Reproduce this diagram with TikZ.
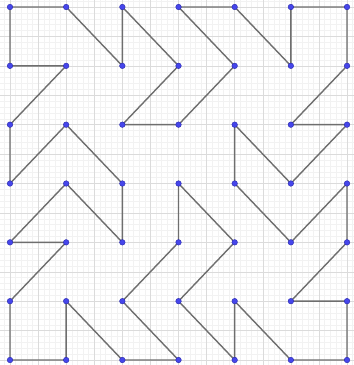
\documentclass[tikz,border=0pt]{standalone}
\usetikzlibrary{backgrounds}
\definecolor{ptblue}{RGB}{70,70,235}
\definecolor{ptedge}{RGB}{40,40,170}
\definecolor{segcol}{RGB}{110,110,110}
\begin{document}
\begin{tikzpicture}[x=56.17pt,y=-58.83pt,
  dot/.style={circle,fill=ptblue,draw=ptedge,line width=0.4pt,inner sep=0pt,minimum size=5.6pt},
  seg/.style={draw=segcol,line width=1.4pt,line join=round},
  minorgrid/.style={draw=gray!10,line width=0.4pt},
  majorgrid/.style={draw=gray!28,line width=0.5pt}]
\useasboundingbox (-0.178,-0.119) rectangle (6.124,6.085);
\foreach \i in {0,...,6}{
  \foreach \j in {0,...,6}{
    \node[dot] (p\i\j) at (\i,\j) {};
  }
}
\begin{scope}[on background layer]
  \fill[white] (-0.178,-0.119) rectangle (6.124,6.085);
  \clip (-0.178,-0.119) rectangle (6.124,6.085);
  \foreach \k in {-2,...,62}{
    \draw[minorgrid] (\k/10,-0.3) -- (\k/10,6.3);
    \draw[minorgrid] (-0.3,\k/10) -- (6.3,\k/10);
  }
  \foreach \k in {-1,...,13}{
    \draw[majorgrid] (\k/2,-0.3) -- (\k/2,6.3);
    \draw[majorgrid] (-0.3,\k/2) -- (6.3,\k/2);
  }
  \draw[seg] (p00.center) -- (p10.center) -- (p21.center) -- (p20.center) -- (p31.center)
    -- (p22.center) -- (p32.center) -- (p41.center) -- (p30.center) -- (p40.center)
    -- (p51.center) -- (p50.center) -- (p60.center) -- (p61.center) -- (p52.center)
    -- (p62.center) -- (p53.center) -- (p42.center) -- (p43.center) -- (p54.center)
    -- (p63.center) -- (p64.center) -- (p55.center) -- (p65.center) -- (p66.center)
    -- (p56.center) -- (p45.center) -- (p46.center) -- (p35.center) -- (p44.center)
    -- (p33.center) -- (p34.center) -- (p25.center) -- (p36.center) -- (p26.center)
    -- (p15.center) -- (p16.center) -- (p06.center) -- (p05.center) -- (p14.center)
    -- (p04.center) -- (p13.center) -- (p24.center) -- (p23.center) -- (p12.center)
    -- (p03.center) -- (p02.center) -- (p11.center) -- (p01.center) -- cycle;
\end{scope}
\end{tikzpicture}
\end{document}
